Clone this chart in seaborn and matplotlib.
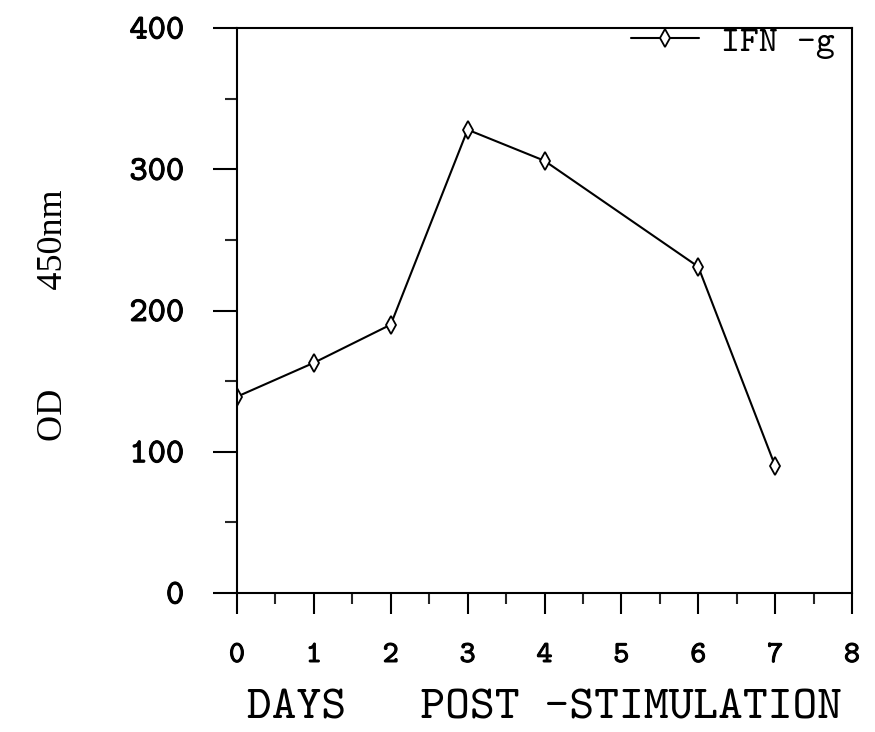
import matplotlib
matplotlib.use("Agg")
import matplotlib.pyplot as plt
import matplotlib.patheffects as pe
from matplotlib.ticker import MultipleLocator
import seaborn as sns
import pandas as pd

# IFN-g optical density over the days after stimulation
days = [0, 1, 2, 3, 4, 6, 7]
od_450 = [139, 163, 190, 328, 306, 231, 90]
series_label = "IFN -g"

x_ticks = [0, 1, 2, 3, 4, 5, 6, 7, 8]
y_ticks = [0, 100, 200, 300, 400]
x_label = "DAYS   POST -STIMULATION"
y_label = "OD" + " " * 11 + "450nm"

df = pd.DataFrame({"day": days, "od": od_450})

sns.set_style("ticks")
# typewriter face with slab serifs, falling back to a plain mono face
plt.rcParams["font.family"] = ["cmtt10", "Liberation Mono", "DejaVu Sans Mono"]
plt.rcParams["axes.edgecolor"] = "black"
plt.rcParams["axes.linewidth"] = 1.5
plt.rcParams["axes.unicode_minus"] = False

tick_weight = [pe.withStroke(linewidth=0.7, foreground="black")]

fig = plt.figure(figsize=(8.75, 7.32), dpi=100)
ax = fig.add_axes([237 / 875, 139 / 732, 615 / 875, 565 / 732])

sns.lineplot(
    data=df, x="day", y="od", ax=ax,
    color="black", linewidth=1.5,
    marker="d", markersize=9, markerfacecolor="white",
    markeredgecolor="black", markeredgewidth=1.3,
    label=series_label,
)

ax.set_xlim(0, 8)
ax.set_ylim(0, 400)
ax.set_xticks(x_ticks)
ax.set_yticks(y_ticks)
ax.xaxis.set_minor_locator(MultipleLocator(0.5))
ax.yaxis.set_minor_locator(MultipleLocator(50))

for s in ax.spines.values():
    s.set_visible(True)
    s.set_color("black")
    s.set_linewidth(1.5)

ax.tick_params(axis="y", which="major", direction="out", length=17, width=1.5,
               pad=21, labelsize=25, colors="black")
ax.tick_params(axis="y", which="minor", direction="out", length=8.5, width=1.5)
ax.tick_params(axis="x", which="major", direction="out", length=15, width=1.5,
               pad=21, labelsize=22, colors="black")
ax.tick_params(axis="x", which="minor", direction="out", length=8, width=1.5)
for lbl in ax.get_yticklabels() + ax.get_xticklabels():
    lbl.set_path_effects(tick_weight)

ax.set_xlabel(x_label, fontsize=34, color="black")
ax.xaxis.set_label_coords(0.5, -0.17)
ax.set_ylabel(y_label, fontsize=26, color="black", family="Liberation Serif")
ax.yaxis.set_label_coords(-0.272, 0.492)

leg = ax.legend(
    loc="center right", bbox_to_anchor=(0.972, 0.975),
    frameon=False, fontsize=26, handlelength=1.9, handletextpad=0.6,
    borderaxespad=0, borderpad=0,
)
for t in leg.get_texts():
    t.set_color("black")

fig.savefig("out.png", dpi=100, facecolor="white")
